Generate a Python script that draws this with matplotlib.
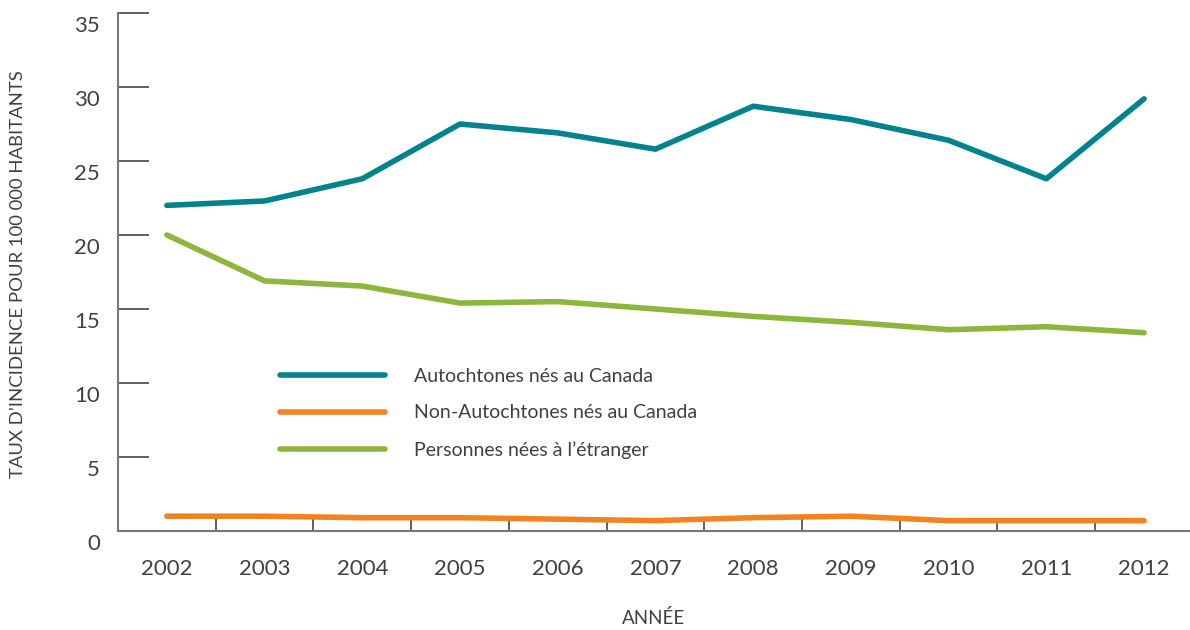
import matplotlib
matplotlib.use("Agg")
import matplotlib.pyplot as plt
import matplotlib.transforms as mtransforms
import numpy as np

years = ["2002", "2003", "2004", "2005", "2006", "2007", "2008", "2009", "2010", "2011", "2012"]
autochtones = [22.0, 22.3, 23.8, 27.5, 26.9, 25.8, 28.7, 27.8, 26.4, 23.8, 29.2]
non_autochtones = [1.0, 1.0, 0.9, 0.9, 0.8, 0.7, 0.9, 1.0, 0.7, 0.7, 0.7]
etranger = [20.0, 16.9, 16.55, 15.4, 15.5, 15.0, 14.5, 14.1, 13.6, 13.8, 13.4]
labels = ["Autochtones nés au Canada", "Non-Autochtones nés au Canada", "Personnes nées à l’étranger"]
colors = ["#00838C", "#F58220", "#8DB63C"]
yticks = [0, 5, 10, 15, 20, 25, 30, 35]

plt.rcParams['font.family'] = ['Lato', 'DejaVu Sans']
txt = "#404040"

fig = plt.figure(figsize=(11.9, 6.3), dpi=100)
ax = fig.add_axes([118/1190, 99/630, 1 - 118/1190, (531-13)/630])

x = np.arange(len(years))
for vals, lab, col in zip([autochtones, non_autochtones, etranger], labels, colors):
    ax.plot(x, vals, color=col, lw=4, solid_capstyle='round', solid_joinstyle='round', label=lab)

ax.set_xlim(-0.5, 10.47)
ax.set_ylim(0, 35)
for s in ['top', 'right']:
    ax.spines[s].set_visible(False)
for s in ['left', 'bottom']:
    ax.spines[s].set_color("#777777")
    ax.spines[s].set_linewidth(1.5)

ax.set_yticks(yticks)
ax.set_yticklabels([str(v) for v in yticks])
ax.tick_params(axis='y', direction='in', length=22, width=1.2, color="#444444",
               labelsize=16, labelcolor=txt, pad=13)
offset = mtransforms.ScaledTranslation(0, -11/100, fig.dpi_scale_trans)
for lbl in ax.get_yticklabels():
    lbl.set_transform(lbl.get_transform() + offset)

ax.set_xticks(x)
ax.set_xticklabels(years)
ax.tick_params(axis='x', which='major', length=0, labelsize=16, labelcolor=txt, pad=20)
ax.set_xticks(np.arange(0.5, 10, 1), minor=True)
ax.tick_params(axis='x', which='minor', direction='in', length=9.5, width=1.2, color="#444444")

fig.text(18/1190, 1 - 274/630, "TAUX D’INCIDENCE POUR 100 000 HABITANTS", rotation=90,
         ha='center', va='center', fontsize=13.3, color=txt)
fig.text(654/1190, 1 - 618/630, "ANNÉE", ha='center', va='center', fontsize=13.5, color=txt)

leg = ax.legend(loc='upper left', bbox_to_anchor=(162/1072, 1 - (368-13)/518), frameon=False,
                fontsize=14, handlelength=5.4, handletextpad=1.5, labelspacing=1.0,
                borderaxespad=0, borderpad=0)
for t in leg.get_texts():
    t.set_color(txt)

fig.savefig("out.png", dpi=100)
